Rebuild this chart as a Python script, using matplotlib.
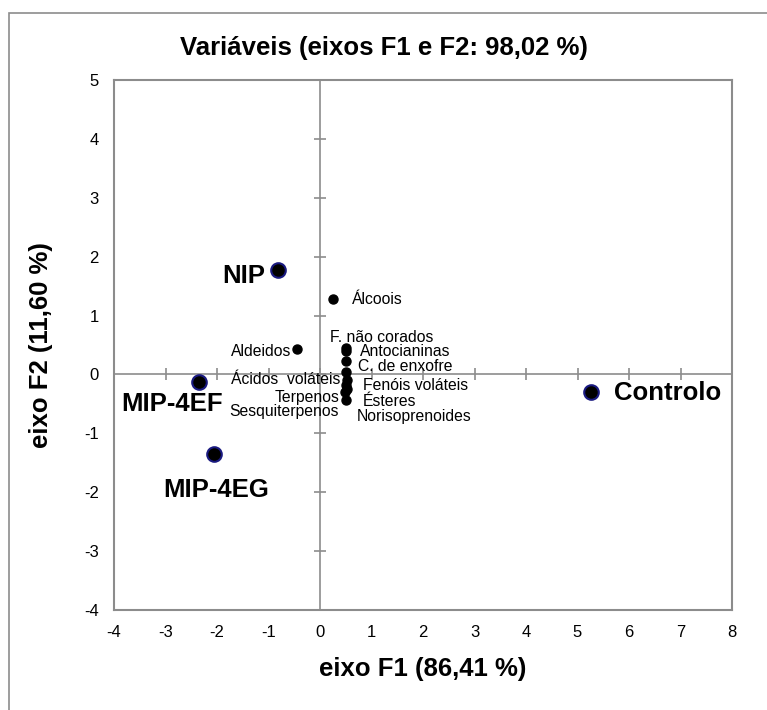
import matplotlib.pyplot as plt
import numpy as np
from matplotlib.patches import Rectangle

plt.rcParams['font.family'] = ['Liberation Sans', 'DejaVu Sans']
plt.rcParams['axes.unicode_minus'] = False

# variáveis (vectores)
var_names = ['Álcoois', 'Aldeidos', 'F. não corados', 'Antocianinas', 'C. de enxofre',
             'Ácidos  voláteis', 'Fenóis voláteis', 'Terpenos', 'Ésteres',
             'Sesquiterpenos', 'Norisoprenoides']
var_f1 = [0.25, -0.45, 0.50, 0.50, 0.51, 0.50, 0.52, 0.50, 0.52, 0.49, 0.50]
var_f2 = [1.28, 0.43, 0.45, 0.39, 0.23, 0.05, -0.09, -0.18, -0.24, -0.30, -0.44]

# observações
obs_names = ['NIP', 'MIP-4EF', 'MIP-4EG', 'Controlo']
obs_f1 = [-0.82, -2.35, -2.05, 5.26]
obs_f2 = [1.77, -0.12, -1.35, -0.30]

xticks = np.arange(-4, 9, 1)
yticks = np.arange(-4, 6, 1)

grey = '#8c8c8c'

fig = plt.figure(figsize=(7.67, 7.10), dpi=100)
fig.patches.append(Rectangle((9 / 767, -0.05), 1.1, 1.05 - 13 / 710, transform=fig.transFigure,
                             fill=False, edgecolor=grey, linewidth=1.2))
ax = fig.add_axes([114 / 767, 1 - 610 / 710, 618 / 767, 530 / 710])

ax.set_xlim(-4, 8)
ax.set_ylim(-4, 5)
ax.set_xticks(xticks)
ax.set_yticks(yticks)
ax.tick_params(length=0, labelsize=12, pad=11)
for s in ax.spines.values():
    s.set_color(grey)
    s.set_linewidth(1.5)

# eixos no zero com marcas
ax.axhline(0, color=grey, lw=1.2, zorder=1)
ax.axvline(0, color=grey, lw=1.2, zorder=1)
ax.plot(xticks, np.zeros_like(xticks), ls='none', marker='|', ms=8, mew=1.2, color=grey, zorder=1)
ax.plot(np.zeros_like(yticks), yticks, ls='none', marker='_', ms=8, mew=1.2, color=grey, zorder=1)

ax.plot(var_f1, var_f2, 'o', color='black', ms=6.5, zorder=3)
ax.plot(obs_f1, obs_f2, 'o', mfc='black', mec='#1a1a80', mew=1.5, ms=10.5, zorder=3)

# posições dos rótulos (pixels) relativas aos pontos
var_off = {
    'Álcoois': (19, 0, 'left'),
    'Aldeidos': (-5, -2, 'right'),
    'F. não corados': (-16, 10, 'left'),
    'Antocianinas': (14, 0, 'left'),
    'C. de enxofre': (12, -6, 'left'),
    'Ácidos  voláteis': (-5, -8, 'right'),
    'Fenóis voláteis': (16, -6, 'left'),
    'Terpenos': (-6, -12, 'right'),
    'Ésteres': (16, -13, 'left'),
    'Sesquiterpenos': (-6, -19, 'right'),
    'Norisoprenoides': (11, -16, 'left'),
}
for n, x, y in zip(var_names, var_f1, var_f2):
    dx, dy, ha = var_off[n]
    ax.annotate(n, (x, y), xytext=(dx, dy), textcoords='offset pixels',
                ha=ha, va='center', fontsize=11.3)

obs_off = {
    'NIP': (-13, -6, 'right'),
    'MIP-4EF': (-27, -22, 'center'),
    'MIP-4EG': (2, -36, 'center'),
    'Controlo': (23, -1, 'left'),
}
for n, x, y in zip(obs_names, obs_f1, obs_f2):
    dx, dy, ha = obs_off[n]
    ax.annotate(n, (x, y), xytext=(dx, dy), textcoords='offset pixels',
                ha=ha, va='center', fontsize=18.5, fontweight='bold')

fig.text(0.5, 1 - 48 / 710, 'Variáveis (eixos F1 e F2: 98,02 %)', ha='center', va='center',
         fontsize=18.5, fontweight='bold')
ax.set_xlabel('eixo F1 (86,41 %)', fontsize=18.5, fontweight='bold', labelpad=12)
ax.set_ylabel('eixo F2 (11,60 %)', fontsize=18.5, fontweight='bold', labelpad=22)

plt.savefig('out.png')
